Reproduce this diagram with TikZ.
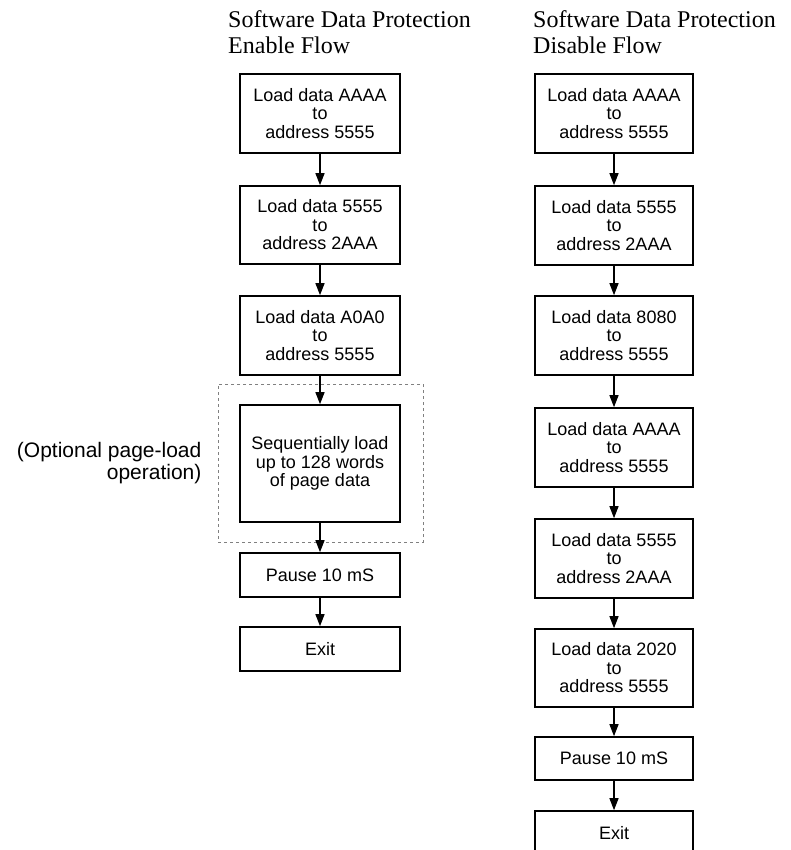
\documentclass[tikz,border=0pt]{standalone}
\usepackage{fontspec}
\setmainfont{Liberation Serif}
\setsansfont{Liberation Sans}
\usetikzlibrary{arrows.meta}
\tikzset{blk/.style={rectangle,draw,line width=1.6pt,align=center,inner sep=0pt,font=\sffamily\fontsize{18}{18.5}\selectfont}}
\tikzset{ttl/.style={anchor=north west,align=left,inner sep=0pt,font=\fontsize{24}{26}\selectfont}}

\begin{document}
\begin{tikzpicture}[x=1pt,y=-1pt,>={Triangle[length=12pt,width=9pt]}]
    \useasboundingbox (0,0) rectangle (790,850);

    % titles
    \node[ttl] (t1) at (228,10) {Software Data Protection\\Enable Flow};
    \node[ttl] (t2) at (533,10) {Software Data Protection\\Disable Flow};

    % enable flow
    \node[blk,minimum width=160,minimum height=79] (a1) at (320,113.5) {Load data AAAA\\to\\address 5555};
    \node[blk,minimum width=160,minimum height=78] (a2) at (320,225) {Load data 5555\\to\\address 2AAA};
    \node[blk,minimum width=160,minimum height=79] (a3) at (320,335.5) {Load data A0A0\\to\\address 5555};
    \node[draw=gray,dashed,line width=0.8pt,minimum width=205,minimum height=158,inner sep=0pt] (opt) at (320.5,463) {};
    \node[blk,minimum width=160,minimum height=117] (a4) at (320,463.5) {Sequentially load\\up to 128 words\\of page data};
    \node[blk,minimum width=160,minimum height=44] (a5) at (320,575) {Pause 10 mS};
    \node[blk,minimum width=160,minimum height=44] (a6) at (320,649) {Exit};
    \node[anchor=east,align=right,inner sep=0pt,font=\sffamily\fontsize{21}{22}\selectfont] (lb) at ([xshift=-16]opt.west) {(Optional page-load\\operation)};

    % disable flow
    \node[blk,minimum width=158,minimum height=79] (b1) at (614,113.5) {Load data AAAA\\to\\address 5555};
    \node[blk,minimum width=158,minimum height=79] (b2) at (614,225.5) {Load data 5555\\to\\address 2AAA};
    \node[blk,minimum width=158,minimum height=79] (b3) at (614,335.5) {Load data 8080\\to\\address 5555};
    \node[blk,minimum width=158,minimum height=79] (b4) at (614,447.5) {Load data AAAA\\to\\address 5555};
    \node[blk,minimum width=158,minimum height=79] (b5) at (614,558.5) {Load data 5555\\to\\address 2AAA};
    \node[blk,minimum width=158,minimum height=78] (b6) at (614,668) {Load data 2020\\to\\address 5555};
    \node[blk,minimum width=158,minimum height=43] (b7) at (614,758.5) {Pause 10 mS};
    \node[blk,minimum width=158,minimum height=44] (b8) at (614,833) {Exit};

    \draw [->,line width=1.2pt] (a1) to (a2);
    \draw [->,line width=1.2pt] (a2) to (a3);
    \draw [->,line width=1.2pt] (a3) to (a4);
    \draw [->,line width=1.2pt] (a4) to (a5);
    \draw [->,line width=1.2pt] (a5) to (a6);

    \draw [->,line width=1.2pt] (b1) to (b2);
    \draw [->,line width=1.2pt] (b2) to (b3);
    \draw [->,line width=1.2pt] (b3) to (b4);
    \draw [->,line width=1.2pt] (b4) to (b5);
    \draw [->,line width=1.2pt] (b5) to (b6);
    \draw [->,line width=1.2pt] (b6) to (b7);
    \draw [->,line width=1.2pt] (b7) to (b8);
\end{tikzpicture}
\end{document}
